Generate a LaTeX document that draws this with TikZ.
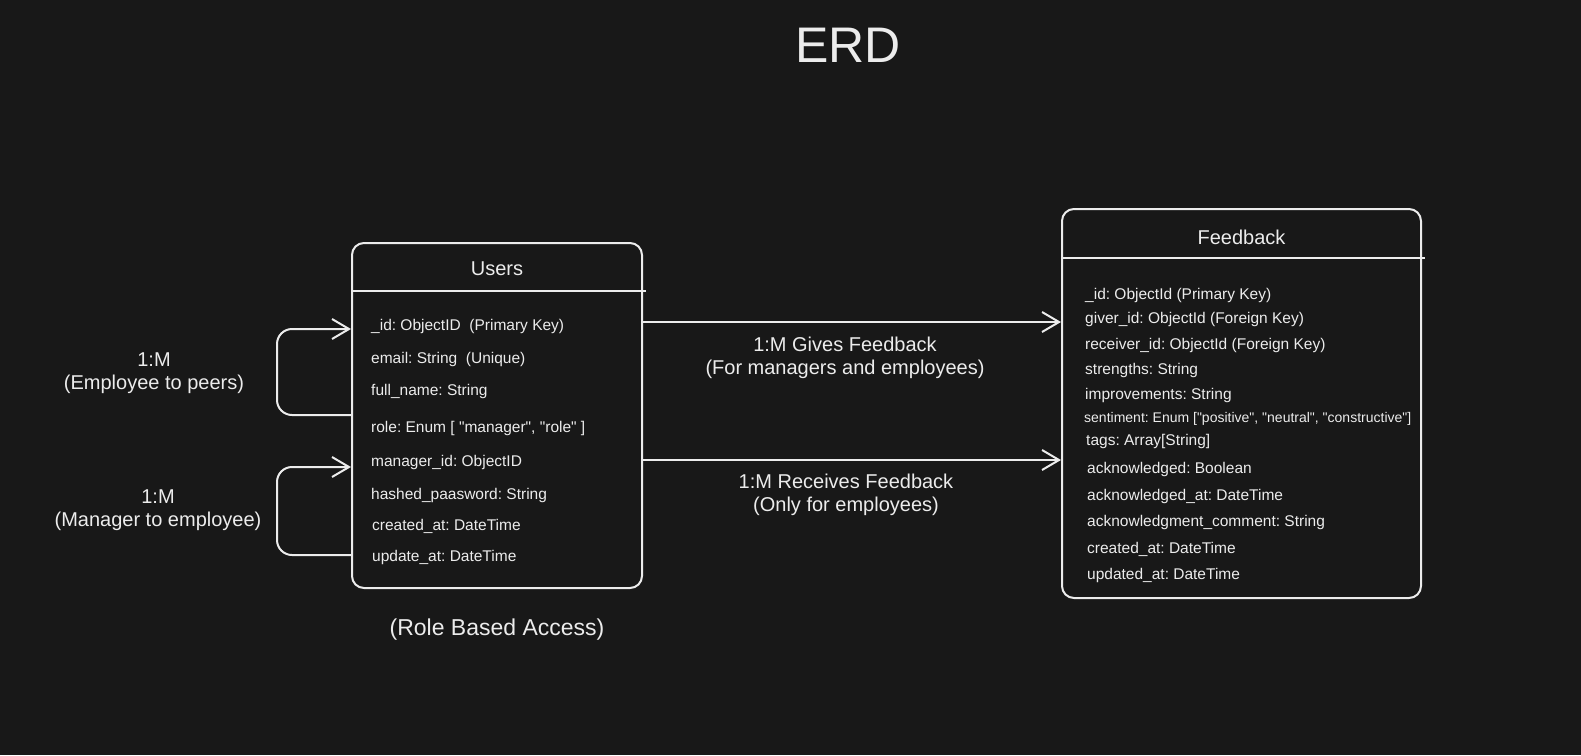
\documentclass[tikz,border=0pt]{standalone}
\usepackage{fontspec}
\setmainfont{Liberation Sans}[Ligatures=TeXOff]
\usetikzlibrary{arrows.meta}
\definecolor{canvas}{RGB}{24,24,24}
\definecolor{chalk}{RGB}{236,236,236}
\frenchspacing

\begin{document}
\begin{tikzpicture}[x=1pt,y=-1pt,
	table/.style={draw=chalk,line width=2pt,rounded corners=12pt,inner sep=0pt},
	head/.style={text=chalk,inner sep=0pt,font=\fontsize{20}{24}\selectfont},
	field/.style={anchor=west,text=chalk,inner sep=0pt,text height=.72em,text depth=0pt,yshift=-2.5pt,font=\fontsize{15.5}{18}\selectfont},
	link/.style={draw=chalk,line width=2pt,-{Straight Barb[length=17pt,width=20pt,line width=2pt]}},
	selfloop/.style={link,rounded corners=15pt},
	note/.style={text=chalk,align=center,inner sep=0pt,font=\fontsize{20}{23}\selectfont}]

	\fill[canvas] (0,0) rectangle (1581,755);
	\useasboundingbox (0,0) rectangle (1581,755);

	\node[text=chalk,inner sep=0pt,font=\fontsize{50}{60}\selectfont] (title) at (848,45) {ERD};

	\newcommand\drawField[4]{\node[field] (#4) at (#1,#2) {#3};}

	% users table
	\begin{scope}
		\node[table,minimum width=290pt,minimum height=345pt] (users) at (497,415.5) {};
		\draw[chalk,line width=2pt] (users.west |- 0,291) -- ([xshift=3pt]users.east |- 0,291);
		\node[head] (usersHead) at (users.north |- 0,269) {Users};

		\drawField{371}{324}{\_id: ObjectID\ \ (Primary Key)}{u1}
		\drawField{371}{357}{email: String\ \ (Unique)}{u2}
		\drawField{371}{389}{full\_name: String}{u3}
		\drawField{371}{426}{role: Enum [ "manager", "role" ]}{u4}
		\drawField{371}{460}{manager\_id: ObjectID}{u5}
		\drawField{371}{493}{hashed\_paasword: String}{u6}
		\drawField{372}{524}{created\_at: DateTime}{u7}
		\drawField{372}{555}{update\_at: DateTime}{u8}

		\node[text=chalk,inner sep=0pt,font=\fontsize{23}{28}\selectfont] (roleNote) at (497,630) {(Role Based Access)};
	\end{scope}

	% feedback table
	\begin{scope}
		\node[table,minimum width=359pt,minimum height=389pt] (feedback) at (1241.5,403.5) {};
		\draw[chalk,line width=2pt] (feedback.west |- 0,258) -- ([xshift=3pt]feedback.east |- 0,258);
		\node[head] (feedbackHead) at (feedback.north |- 0,237) {Feedback};

		\drawField{1085}{293}{\_id: ObjectId (Primary Key)}{f1}
		\drawField{1085}{317}{giver\_id: ObjectId (Foreign Key)}{f2}
		\drawField{1085}{343}{receiver\_id: ObjectId (Foreign Key)}{f3}
		\drawField{1085}{368}{strengths: String}{f4}
		\drawField{1085}{393}{improvements: String}{f5}
		\node[field,font=\fontsize{14}{17}\selectfont] (f6) at (1084,416) {sentiment: Enum ["positive", "neutral", "constructive"]};
		\drawField{1086}{439}{tags: Array[String]}{f7}
		\drawField{1087}{467}{acknowledged: Boolean}{f8}
		\drawField{1087}{494}{acknowledged\_at: DateTime}{f9}
		\drawField{1087}{520}{acknowledgment\_comment: String}{f10}
		\drawField{1087}{547}{created\_at: DateTime}{f11}
		\drawField{1087}{573}{updated\_at: DateTime}{f12}
	\end{scope}

	% relations
	\draw[link] (users.east |- 0,322) -- (feedback.west |- 0,322);
	\draw[link] (users.east |- 0,460) -- (feedback.west |- 0,460);
	\node[note] (givesNote) at (845,358) {1:M Gives Feedback\\(For managers and employees)};
	\node[note] (receivesNote) at (846,495) {1:M Receives Feedback\\(Only for employees)};

	\draw[selfloop] (users.west |- 0,415) -- ++(-74,0) |- (users.west |- 0,329);
	\draw[selfloop] (users.west |- 0,555) -- ++(-74,0) |- (users.west |- 0,467);
	\node[note] (peersNote) at (154,373) {1:M\\(Employee to peers)};
	\node[note] (managerNote) at (158,510) {1:M\\(Manager to employee)};
\end{tikzpicture}
\end{document}
